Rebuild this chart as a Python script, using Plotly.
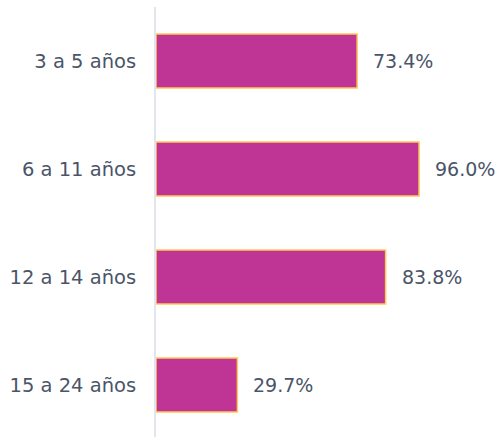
import plotly.graph_objects as go

categories = ["3 a 5 años", "6 a 11 años", "12 a 14 años", "15 a 24 años"]
values = [73.4, 96.0, 83.8, 29.7]
value_labels = ["73.4%", "96.0%", "83.8%", "29.7%"]

TEXT_COLOR = "#4A5568"
FONT = "DejaVu Sans"
FSIZE = 19.5

fig = go.Figure()
fig.add_trace(go.Bar(
    y=categories, x=values, orientation="h",
    marker=dict(color="#BE3596", line=dict(color="#FFC857", width=1.5)),
    hoverinfo="skip",
))

for c, v, t in zip(categories, values, value_labels):
    fig.add_annotation(x=v, y=c, text=t, showarrow=False, xanchor="left",
                       xshift=14, font=dict(family=FONT, size=19, color=TEXT_COLOR))

fig.update_layout(
    width=499, height=437,
    margin=dict(l=156, r=69, t=7, b=0),
    paper_bgcolor="white", plot_bgcolor="white",
    bargap=0.5,
    showlegend=False,
    xaxis=dict(range=[0, 100], visible=False, fixedrange=True),
    yaxis=dict(
        categoryorder="array", categoryarray=categories,
        range=[3.481, -0.5],
        showline=True, linecolor="#E2E5EB", linewidth=2,
        showgrid=False, zeroline=False, ticks="",
        ticklabelstandoff=14,
        tickfont=dict(family=FONT, size=FSIZE, color=TEXT_COLOR),
    ),
)

fig.write_html(
    "out.html",
    config={"displayModeBar": False},
    post_script="document.body.style.margin='0';document.body.style.overflow='hidden';",
)
